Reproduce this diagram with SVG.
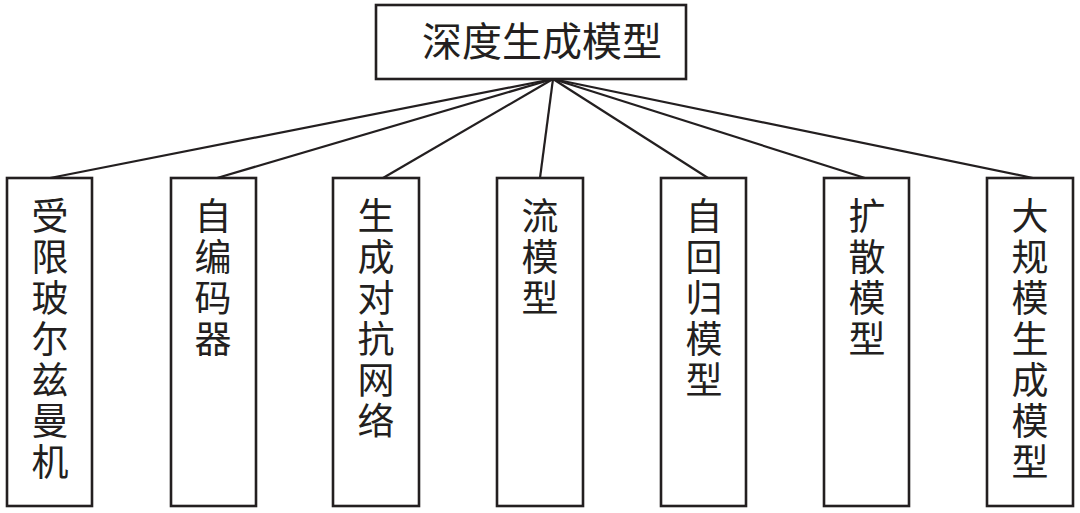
<svg xmlns="http://www.w3.org/2000/svg" width="1080" height="513" viewBox="0 0 1080 513">
<style>
.box{fill:#fff;stroke:#231f20;stroke-width:2.6}
.ln{stroke:#231f20;stroke-width:2.2;fill:none}
.t{font-family:"Noto Sans CJK SC","Noto Sans CJK JP",sans-serif;font-size:37px;fill:#231f20;writing-mode:vertical-rl;letter-spacing:4px}
.tt{font-family:"Noto Sans CJK SC","Noto Sans CJK JP",sans-serif;font-size:40px;fill:#231f20;text-anchor:middle}
</style>
<rect width="1080" height="513" fill="#fff"/>
<g id="connectors">
<line class="ln" x1="553" y1="79" x2="50" y2="178"/>
<line class="ln" x1="553" y1="79" x2="217" y2="178"/>
<line class="ln" x1="553" y1="79" x2="383" y2="178"/>
<line class="ln" x1="553" y1="79" x2="540" y2="178"/>
<line class="ln" x1="553" y1="79" x2="708" y2="178"/>
<line class="ln" x1="553" y1="79" x2="865" y2="178"/>
<line class="ln" x1="553" y1="79" x2="1033" y2="178"/>
</g>
<g id="root">
<rect class="box" x="376" y="5" width="310" height="74"/>
<text class="tt" x="542" y="56">深度生成模型</text>
</g>
<g id="n1">
<rect class="box" x="7" y="178" width="85" height="328"/>
<text class="t" x="50" y="197">受限玻尔兹曼机</text>
</g>
<g id="n2">
<rect class="box" x="171" y="178" width="85" height="328"/>
<text class="t" x="213" y="197">自编码器</text>
</g>
<g id="n3">
<rect class="box" x="333" y="178" width="86" height="328"/>
<text class="t" x="376" y="197">生成对抗网络</text>
</g>
<g id="n4">
<rect class="box" x="497" y="178" width="86" height="328"/>
<text class="t" x="540" y="197">流模型</text>
</g>
<g id="n5">
<rect class="box" x="661" y="178" width="85" height="328"/>
<text class="t" x="704" y="197">自回归模型</text>
</g>
<g id="n6">
<rect class="box" x="824" y="178" width="85" height="328"/>
<text class="t" x="867" y="197">扩散模型</text>
</g>
<g id="n7">
<rect class="box" x="987" y="178" width="86" height="328"/>
<text class="t" x="1030" y="197">大规模生成模型</text>
</g>
</svg>
